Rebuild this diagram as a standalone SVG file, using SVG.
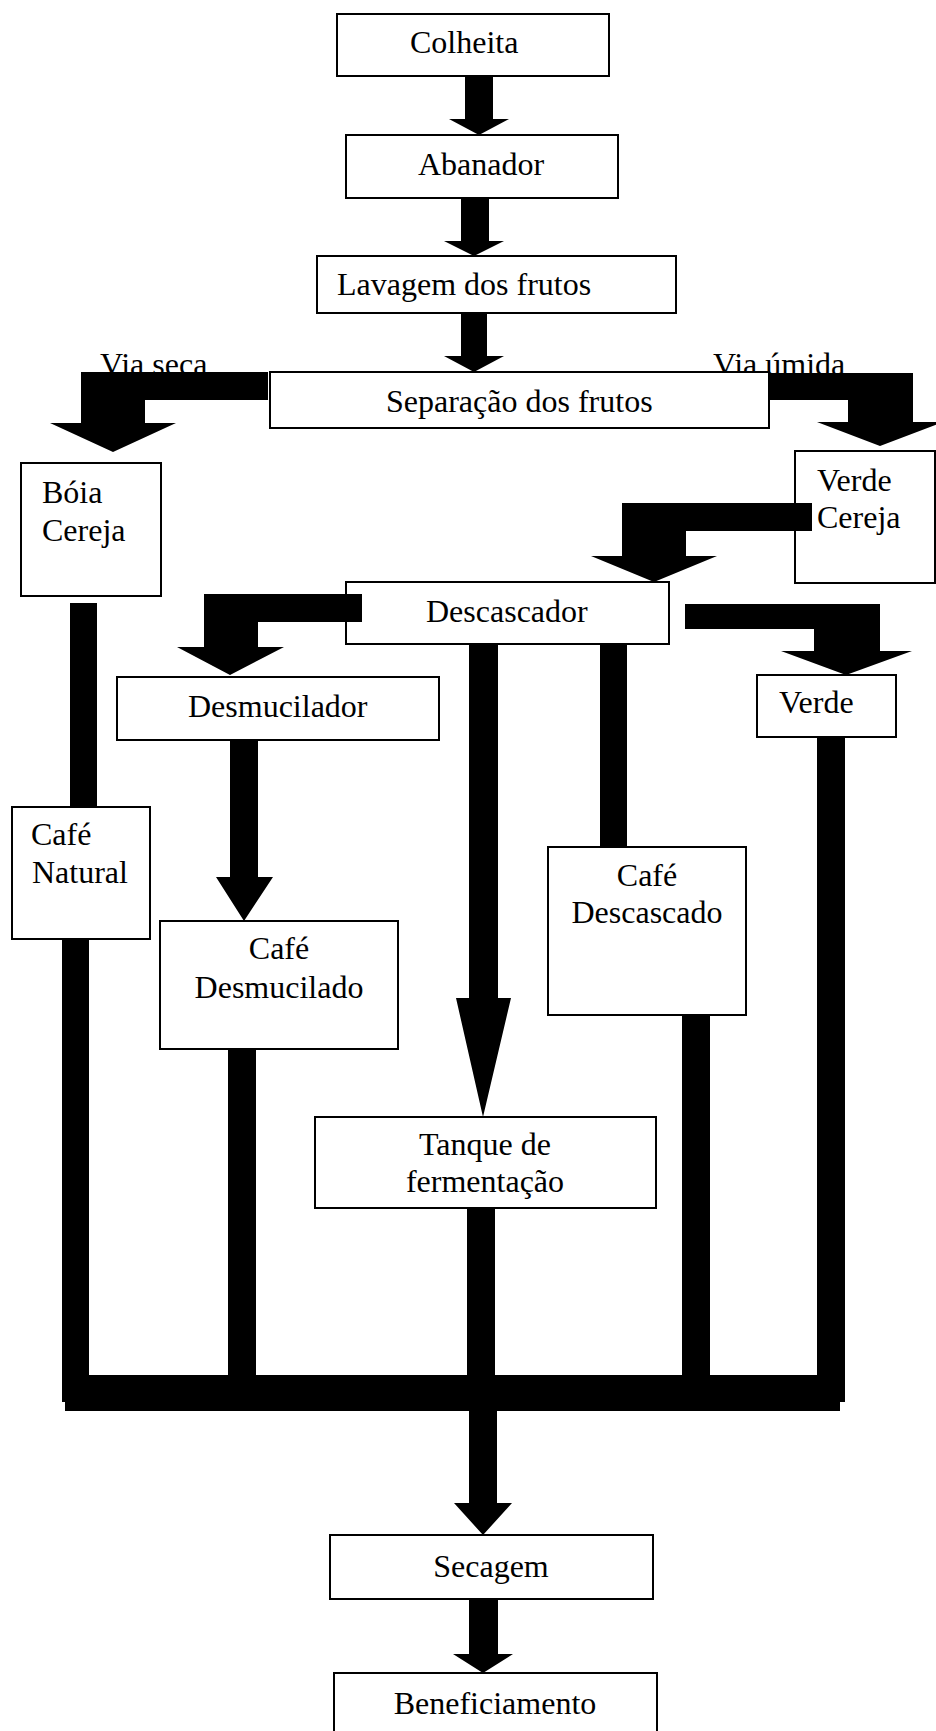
<svg xmlns="http://www.w3.org/2000/svg" width="936" height="1731" viewBox="0 0 936 1731">
<style>
.box{fill:#fff;stroke:#000;stroke-width:2}
text{font-family:"Liberation Serif","Times New Roman",serif;font-size:32px;fill:#000}
.c{text-anchor:middle}
.conn path,.conn rect{fill:#000}
</style>
<rect width="936" height="1731" fill="#fff"/>
<g id="labels">
<text x="100" y="375">Via seca</text>
<text x="713" y="375">Via úmida</text>
</g>
<g id="n-colheita"><rect class="box" x="337" y="14" width="272" height="62"/><text x="410" y="53">Colheita</text></g>
<g id="n-abanador"><rect class="box" x="346" y="135" width="272" height="63"/><text x="418" y="175">Abanador</text></g>
<g id="n-lavagem"><rect class="box" x="317" y="256" width="359" height="57"/><text x="337" y="295">Lavagem dos frutos</text></g>
<g id="n-separacao"><rect class="box" x="270" y="372" width="499" height="56"/><text x="386" y="412">Separação dos frutos</text></g>
<g id="n-boia"><rect class="box" x="21" y="463" width="140" height="133"/><text x="42" y="503">Bóia</text><text x="42" y="541">Cereja</text></g>
<g id="n-verdecereja"><rect class="box" x="795" y="451" width="140" height="132"/><text x="817" y="491">Verde</text><text x="817" y="528">Cereja</text></g>
<g id="n-descascador"><rect class="box" x="346" y="582" width="323" height="62"/><text x="426" y="622">Descascador</text></g>
<g id="n-desmucilador"><rect class="box" x="117" y="677" width="322" height="63"/><text x="188" y="717">Desmucilador</text></g>
<g id="n-verde"><rect class="box" x="757" y="675" width="139" height="62"/><text x="779" y="713">Verde</text></g>
<g id="n-cafenatural"><rect class="box" x="12" y="807" width="138" height="132"/><text x="31" y="845">Café</text><text x="32" y="883">Natural</text></g>
<g id="n-cafedescascado"><rect class="box" x="548" y="847" width="198" height="168"/><text class="c" x="647" y="886">Café</text><text class="c" x="647" y="923">Descascado</text></g>
<g id="n-cafedesmucilado"><rect class="box" x="160" y="921" width="238" height="128"/><text class="c" x="279" y="959">Café</text><text class="c" x="279" y="998">Desmucilado</text></g>
<g id="n-tanque"><rect class="box" x="315" y="1117" width="341" height="91"/><text class="c" x="485" y="1155">Tanque de</text><text class="c" x="485" y="1192">fermentação</text></g>
<g id="n-secagem"><rect class="box" x="330" y="1535" width="323" height="64"/><text class="c" x="491" y="1577">Secagem</text></g>
<g id="n-beneficiamento"><rect class="box" x="334" y="1673" width="323" height="70"/><text class="c" x="495" y="1714">Beneficiamento</text></g>
<g id="connectors" class="conn">
<path d="M465,76 H493 V119 H509 L479,135 L449,119 H465 Z"/>
<path d="M461,198 H489 V241 H504 L474,256 L444,241 H461 Z"/>
<path d="M461,313 H487 V356 H504 L474,372 L444,356 H461 Z"/>
<path d="M268,372 H81 V423 H50 L113,452 L176,423 H145 V400 H268 Z"/>
<path d="M769,373 H913 V422 H943 L880,446 L817,422 H848 V400 H769 Z"/>
<path d="M812,503 H622 V556 H591 L654,582 L717,556 H686 V531 H812 Z"/>
<path d="M362,594 H204 V647 H177 L230,675 L284,647 H258 V622 H362 Z"/>
<path d="M685,604 H880 V651 H912 L846,675 L781,651 H814 V629 H685 Z"/>
<rect x="70" y="603" width="27" height="204"/>
<path d="M469,644 H498 V998 H511 L483,1117 L456,998 H469 Z"/>
<rect x="600" y="644" width="27" height="203"/>
<path d="M230,740 H258 V877 H273 L244,921 L216,877 H230 Z"/>
<rect x="817" y="737" width="28" height="665"/>
<rect x="62" y="939" width="27" height="463"/>
<rect x="228" y="1049" width="28" height="326"/>
<rect x="467" y="1208" width="28" height="167"/>
<rect x="682" y="1015" width="28" height="396"/>
<rect x="62" y="1375" width="783" height="27"/>
<rect x="65" y="1402" width="775" height="9"/>
<path d="M469,1411 H497 V1503 H512 L483,1535 L454,1503 H469 Z"/>
<path d="M469,1599 H498 V1654 H513 L483,1673 L453,1654 H469 Z"/>
</g>
</svg>
